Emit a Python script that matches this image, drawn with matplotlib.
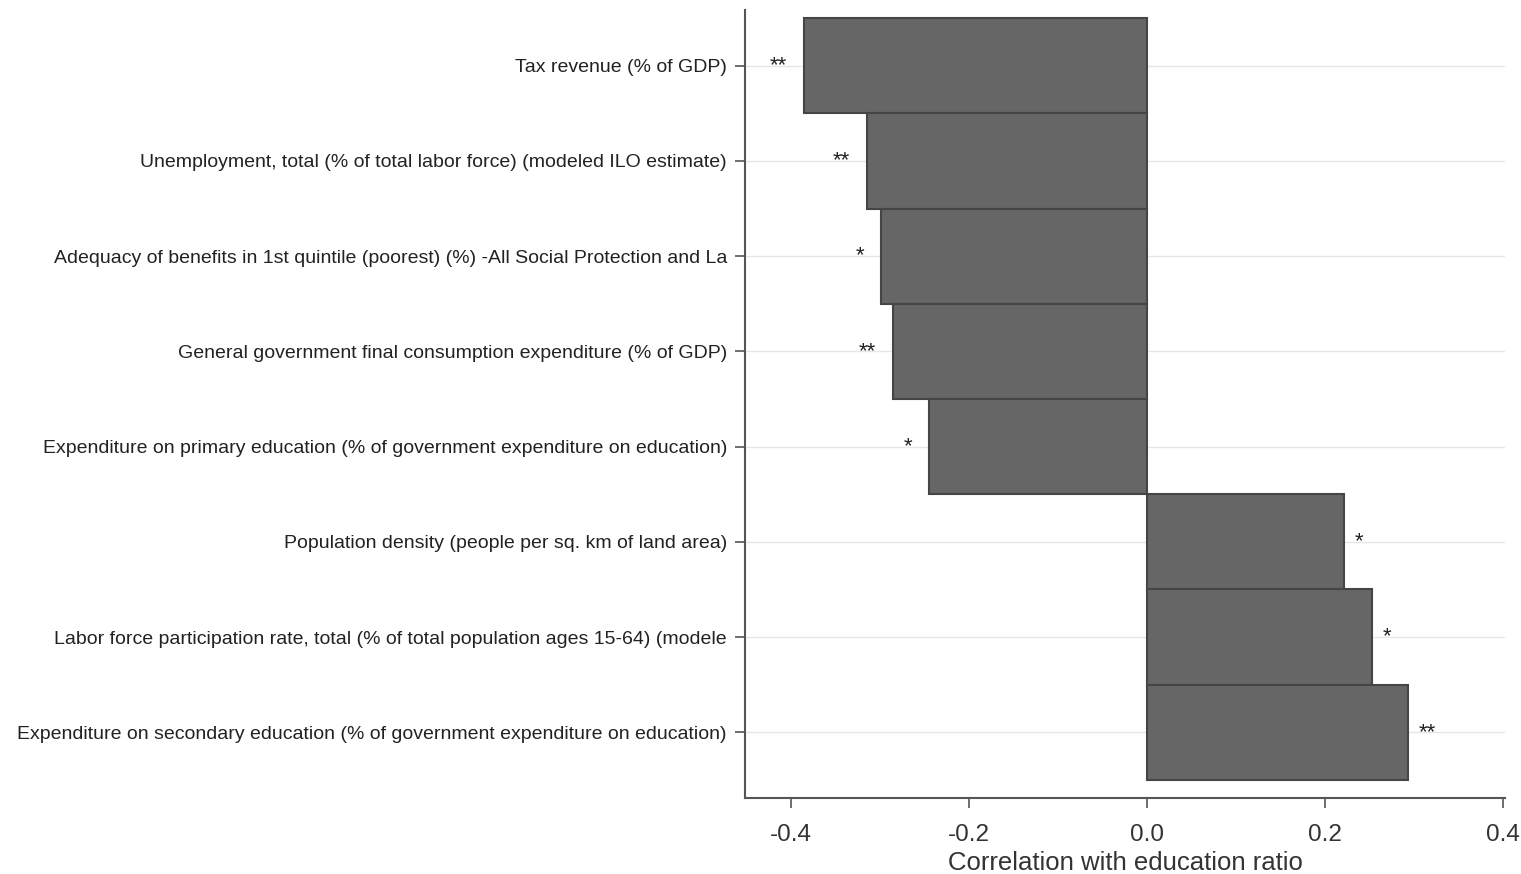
import matplotlib
matplotlib.use("Agg")
import matplotlib.pyplot as plt

plt.rcParams['font.family'] = ['Liberation Sans', 'DejaVu Sans']

labels = [
    "Tax revenue (% of GDP)",
    "Unemployment, total (% of total labor force) (modeled ILO estimate)",
    "Adequacy of benefits in 1st quintile (poorest) (%) -All Social Protection and La",
    "General government final consumption expenditure (% of GDP)",
    "Expenditure on primary education (% of government expenditure on education)",
    "Population density (people per sq. km of land area)",
    "Labor force participation rate, total (% of total population ages 15-64) (modele",
    "Expenditure on secondary education (% of government expenditure on education)",
]
values = [-0.386, -0.315, -0.299, -0.286, -0.245, 0.221, 0.252, 0.293]
stars = ["**", "**", "*", "**", "*", "*", "*", "**"]
xticks = [-0.4, -0.2, 0.0, 0.2, 0.4]
xlabel = "Correlation with education ratio"

fig = plt.figure(figsize=(15.21, 8.74), dpi=100)
ax = fig.add_axes([745/1521, 1 - 798/874, (1505-745)/1521, (798-10)/874])

n = len(labels)
ypos = list(range(n))
ax.barh(ypos, values, height=1.0, color="#666666", edgecolor="#454545", linewidth=1.5, zorder=3)

for y, v, s in zip(ypos, values, stars):
    if v < 0:
        ax.annotate(s, (v, y), xytext=(-12, 0), textcoords="offset points",
                    ha="right", va="center", fontsize=16, color="#222222")
    else:
        ax.annotate(s, (v, y), xytext=(8, 0), textcoords="offset points",
                    ha="left", va="center", fontsize=16, color="#222222")

ax.set_yticks(ypos)
ax.set_yticklabels(labels, fontsize=14, color="#222222")
ax.set_ylim(n - 0.5 + 0.19, -0.5 - 0.085)
ax.set_xlim(-0.452, 0.402)
ax.set_xticks(xticks)
ax.set_xticklabels([f"{t:.1f}" for t in xticks], fontsize=17.5, color="#333333")
ax.set_xlabel(xlabel, fontsize=18.5, color="#333333", labelpad=3)

ax.grid(axis="y", color="#e6e6e6", linewidth=1, zorder=0)
ax.grid(axis="x", visible=False)
for side in ["top", "right"]:
    ax.spines[side].set_visible(False)
for side in ["left", "bottom"]:
    ax.spines[side].set_color("#555555")
    ax.spines[side].set_linewidth(1.5)
ax.tick_params(axis="both", color="#555555", length=7, width=1.2)
ax.tick_params(axis="x", pad=12)
ax.tick_params(axis="y", pad=6)

fig.savefig("out.png", dpi=100)
